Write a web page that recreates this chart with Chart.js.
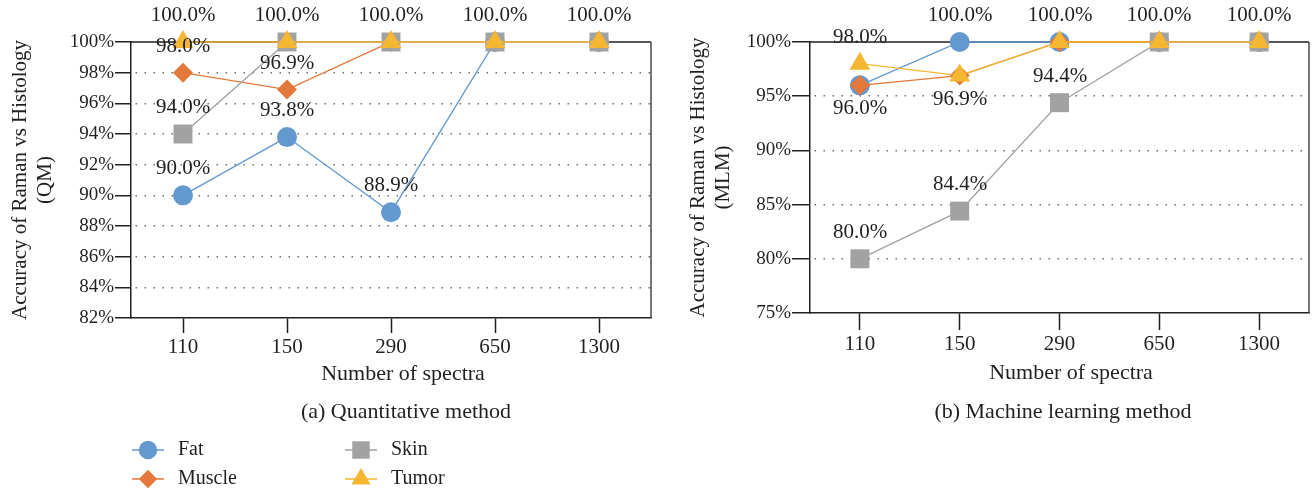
<!DOCTYPE html>
<html>
<head>
<meta charset="utf-8">
<script src="https://cdn.jsdelivr.net/npm/chart.js@4.4.1/dist/chart.umd.min.js"></script>
<style>
  html, body { margin: 0; padding: 0; background: #ffffff; }
  #wrap { position: relative; width: 1314px; height: 494px; overflow: hidden; background: #ffffff; }
  #wrap canvas { position: absolute; top: 0; }
</style>
</head>
<body>
<div id="wrap">
  <canvas id="qm" width="660" height="494" style="left:0px"></canvas>
  <canvas id="mlm" width="654" height="494" style="left:660px"></canvas>
</div>
<script>
// Number of spectra used for each run
const categories = ['110', '150', '290', '650', '1300'];
const seriesNames = ['Fat', 'Muscle', 'Skin', 'Tumor'];

// (a) Quantitative method: accuracy of Raman vs histology, %
const qmFat    = [90.0, 93.8, 88.9, 100.0, 100.0];
const qmMuscle = [98.0, 96.9, 100.0, 100.0, 100.0];
const qmSkin   = [94.0, 100.0, 100.0, 100.0, 100.0];
const qmTumor  = [100.0, 100.0, 100.0, 100.0, 100.0];
const qmTicks  = [82, 84, 86, 88, 90, 92, 94, 96, 98, 100];

// (b) Machine learning method: accuracy of Raman vs histology, %
const mlmFat    = [96.0, 100.0, 100.0, 100.0, 100.0];
const mlmMuscle = [96.0, 96.9, 100.0, 100.0, 100.0];
const mlmSkin   = [80.0, 84.4, 94.4, 100.0, 100.0];
const mlmTumor  = [98.0, 96.9, 100.0, 100.0, 100.0];
const mlmTicks  = [75, 80, 85, 90, 95, 100];

const FONT = "'Liberation Serif', 'Times New Roman', serif";
const INK = '#231f20';

// Appearance of each tissue series (order = drawing order, last on top)
const STYLE = {
  Fat:    { color: '#6499cf', pointStyle: 'circle',   radius: 10,   order: 4 },
  Muscle: { color: '#e4773a', pointStyle: 'rectRot',  radius: 10,   order: 3 },
  Skin:   { color: '#a3a2a3', pointStyle: 'rect',     radius: 13.4, order: 2 },
  Tumor:  { color: '#f5b731', pointStyle: 'triangle', radius: 12,   order: 1 }
};

function markerPath(ctx, style, x, y) {
  ctx.fillStyle = style.color;
  ctx.strokeStyle = style.color;
  Chart.helpers.drawPoint(ctx, { pointStyle: style.pointStyle, radius: style.radius, rotation: 0, borderWidth: 0 }, x, y);
}

// Outer frame of the plot area: top and right edges
const framePlugin = {
  id: 'frame',
  beforeDatasetsDraw(chart) {
    const a = chart.chartArea, ctx = chart.ctx;
    ctx.save();
    ctx.lineWidth = 1.5;
    ctx.strokeStyle = '#231f20';
    ctx.beginPath();
    ctx.moveTo(a.left, a.top);
    ctx.lineTo(a.right, a.top);
    ctx.stroke();
    ctx.strokeStyle = '#4a4a4a';
    ctx.beginPath();
    ctx.moveTo(a.right, a.top);
    ctx.lineTo(a.right, a.bottom);
    ctx.stroke();
    ctx.restore();
  }
};

// Percentage label for every point; identical labels at the same spot are drawn once
const valueLabelPlugin = {
  id: 'valueLabels',
  afterDatasetsDraw(chart, args, opts) {
    const ctx = chart.ctx;
    const seen = new Set();
    ctx.save();
    ctx.font = '21px ' + FONT;
    ctx.fillStyle = INK;
    ctx.textAlign = 'center';
    ctx.textBaseline = 'middle';
    chart.data.datasets.forEach((ds, di) => {
      const meta = chart.getDatasetMeta(di);
      const below = (opts.below && opts.below[ds.label]) || [];
      meta.data.forEach((pt, i) => {
        const text = ds.data[i].toFixed(1) + '%';
        const dy = below.includes(i) ? opts.belowGap : -opts.aboveGap;
        const x = Math.round(pt.x), y = Math.round(pt.y + dy);
        const key = text + '@' + x + ',' + y;
        if (seen.has(key)) return;
        seen.add(key);
        ctx.fillText(text, x, y);
      });
    });
    ctx.restore();
  }
};

// Axis title, panel caption and (optionally) the series key below the axes
const captionPlugin = {
  id: 'captions',
  afterDraw(chart, args, opts) {
    const ctx = chart.ctx;
    ctx.save();
    ctx.fillStyle = INK;
    ctx.textBaseline = 'middle';
    ctx.textAlign = 'center';
    ctx.font = '22px ' + FONT;
    ctx.fillText(opts.axisTitle, opts.axisTitleX, opts.axisTitleY);
    ctx.fillText(opts.caption, opts.captionX, opts.captionY);
    if (opts.key) {
      ctx.font = '20px ' + FONT;
      ctx.textAlign = 'left';
      opts.key.forEach(k => {
        const st = STYLE[k.name];
        ctx.strokeStyle = st.color;
        ctx.lineWidth = 1.5;
        ctx.beginPath();
        ctx.moveTo(k.x - 16, k.y);
        ctx.lineTo(k.x + 16, k.y);
        ctx.stroke();
        markerPath(ctx, Object.assign({}, st, { radius: st.radius * 0.92 }), k.x, k.y);
        ctx.fillStyle = INK;
        ctx.fillText(k.name, k.x + 30, k.y);
      });
    }
    ctx.restore();
  }
};

function buildChart(id, values, ticks, yTitle, g, labelOpts, captionOpts) {
  const datasets = seriesNames.map((name, i) => {
    const st = STYLE[name];
    return {
      label: name,
      data: values[i],
      borderColor: st.color,
      backgroundColor: st.color,
      borderWidth: 1.3,
      pointStyle: st.pointStyle,
      pointRadius: st.radius,
      pointBackgroundColor: st.color,
      pointBorderColor: st.color,
      pointBorderWidth: 0,
      tension: 0,
      clip: false,
      order: st.order
    };
  });
  const yMin = ticks[0], yMax = ticks[ticks.length - 1];
  return new Chart(document.getElementById(id), {
    type: 'line',
    data: { labels: categories, datasets },
    plugins: [framePlugin, valueLabelPlugin, captionPlugin],
    options: {
      responsive: false,
      animation: false,
      events: [],
      layout: { autoPadding: false, padding: { left: 0, right: g.padRight, top: g.top, bottom: g.padBottom } },
      plugins: {
        legend: { display: false },
        tooltip: { enabled: false },
        valueLabels: labelOpts,
        captions: captionOpts
      },
      scales: {
        x: {
          type: 'category',
          offset: true,
          afterFit: s => { s.height = g.xAxisHeight; },
          grid: {
            drawOnChartArea: false,
            drawTicks: true,
            tickLength: g.xTickLen,
            tickColor: '#231f20',
            tickWidth: 1.5,
            color: '#231f20'
          },
          border: { display: true, color: '#231f20', width: 1.5 },
          ticks: {
            color: INK,
            font: { family: FONT, size: 21 },
            padding: 2,
            maxRotation: 0,
            autoSkip: false
          },
          title: { display: false }
        },
        y: {
          min: yMin,
          max: yMax,
          afterFit: s => { s.width = g.yAxisWidth; },
          afterBuildTicks: s => { s.ticks = ticks.map(v => ({ value: v })); },
          grid: {
            drawOnChartArea: true,
            drawTicks: true,
            tickLength: g.yTickLen,
            tickColor: '#231f20',
            tickWidth: 1.5,
            tickBorderDash: [],
            lineWidth: 1.5,
            color: c => (c.tick && (c.tick.value === yMin || c.tick.value === yMax)) ? 'rgba(0,0,0,0)' : '#6e6e6e'
          },
          border: { display: true, color: '#231f20', width: 1.5, dash: [1.5, 7.5], dashOffset: -4 },
          ticks: {
            color: INK,
            font: { family: FONT, size: 19 },
            padding: 1,
            autoSkip: false,
            callback: v => v + '%'
          },
          title: {
            display: true,
            text: yTitle,
            color: INK,
            font: { family: FONT, size: 21, lineHeight: 1.2 },
            padding: { top: g.yTitlePad, bottom: 0 }
          }
        }
      }
    }
  });
}

buildChart('qm',
  [qmFat, qmMuscle, qmSkin, qmTumor],
  qmTicks,
  ['Accuracy of Raman vs Histology', '(QM)'],
  { padRight: 9, top: 42, padBottom: 108.4, xAxisHeight: 67.6, yAxisWidth: 131, xTickLen: 15, yTickLen: 16, yTitlePad: 7.4 },
  { aboveGap: 27, belowGap: 23, below: {} },
  {
    axisTitle: 'Number of spectra', axisTitleX: 403, axisTitleY: 374,
    caption: '(a) Quantitative method', captionX: 406, captionY: 412,
    key: [
      { name: 'Fat', x: 148, y: 450 },
      { name: 'Muscle', x: 148, y: 479 },
      { name: 'Skin', x: 361, y: 450 },
      { name: 'Tumor', x: 361, y: 479 }
    ]
  }
);

buildChart('mlm',
  [mlmFat, mlmMuscle, mlmSkin, mlmTumor],
  mlmTicks,
  ['Accuracy of Raman vs Histology', '(MLM)'],
  { padRight: 5, top: 42, padBottom: 108.4, xAxisHeight: 72.6, yAxisWidth: 150, xTickLen: 17, yTickLen: 18, yTitlePad: 25.4 },
  { aboveGap: 27, belowGap: 23, below: { Fat: [0], Muscle: [0, 1], Tumor: [1] } },
  {
    axisTitle: 'Number of spectra', axisTitleX: 411, axisTitleY: 373,
    caption: '(b) Machine learning method', captionX: 403, captionY: 412
  }
);
</script>
</body>
</html>
